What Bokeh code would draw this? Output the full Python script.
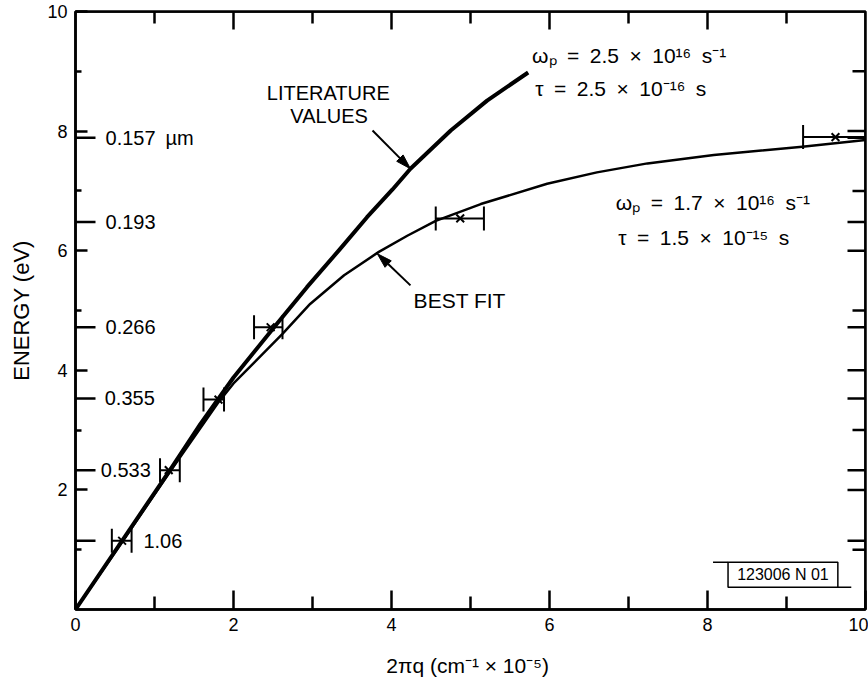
import math
from bokeh.plotting import figure
from bokeh.models import FixedTicker, Range1d, Span
from bokeh.core.properties import value
from bokeh.embed import file_html
from bokeh.resources import INLINE

FONT = "Liberation Sans"

# ---------------- data ----------------
x_ticks = [0, 2, 4, 6, 8, 10]
x_minor = [1, 3, 5, 7, 9]
y_ticks = [2, 4, 6, 8, 10]
y_minor = [1, 3, 5, 7, 9]

# literature-values curve
lit_x = [0.0, 0.6, 1.2, 1.58, 2.0, 2.55, 2.93, 3.35, 3.69, 4.01, 4.24, 4.75, 5.21, 5.73]
lit_y = [0.0, 1.17, 2.34, 3.10, 3.88, 4.78, 5.39, 6.03, 6.56, 7.02, 7.37, 8.01, 8.51, 8.98]

# best-fit curve
fit_x = [0.0, 0.6, 1.2, 1.8, 2.0, 2.62, 2.97, 3.40, 3.84, 4.20, 4.56, 5.13, 5.97,
         6.60, 7.24, 8.08, 9.20, 10.0]
fit_y = [0.0, 1.15, 2.31, 3.45, 3.78, 4.61, 5.11, 5.59, 5.98, 6.25, 6.50, 6.78, 7.12,
         7.31, 7.46, 7.60, 7.74, 7.85]

# measured points with horizontal error bars
pt_x = [0.59, 1.18, 1.81, 2.47, 4.87, 9.62]
pt_y = [1.15, 2.33, 3.51, 4.72, 6.54, 7.90]
pt_lo = [0.46, 1.07, 1.62, 2.26, 4.56, 9.21]
pt_hi = [0.71, 1.32, 1.88, 2.62, 5.17, 10.03]

# wavelength marks on the energy axis
wl_labels = ["0.157\u2002\u00b5m", "0.193", "0.266", "0.355", "0.533", "1.06"]
wl_energy = [7.89, 6.48, 4.72, 3.53, 2.33, 1.15]
wl_label_x = [0.38, 0.38, 0.38, 0.37, 0.32, 0.86]

# annotation arrows: (tail x, tail y, tip x, tip y)
arrows = [(3.76, 8.01, 4.24, 7.37),   # LITERATURE VALUES
          (4.24, 5.42, 3.82, 5.95)]   # BEST FIT

# ---------------- figure ----------------
W, H = 868, 681
ML, MR, MT, MB = 75, 3, 11, 72
px_per_x = (W - ML - MR) / 10.0
px_per_y = (H - MT - MB) / 10.0

p = figure(width=W, height=H, x_range=Range1d(0, 10), y_range=Range1d(0, 10),
           output_backend="svg", title=None,
           toolbar_location=None, min_border_left=ML, min_border_right=MR,
           min_border_top=MT, min_border_bottom=MB)
p.outline_line_color = "black"
p.outline_line_width = 2.5
p.xgrid.visible = False
p.ygrid.visible = False


def style_axis(ax, ticks, minor, major_in, minor_in):
    ax.ticker = FixedTicker(ticks=ticks, minor_ticks=minor)
    ax.major_tick_in = major_in
    ax.major_tick_out = 0
    ax.minor_tick_in = minor_in
    ax.minor_tick_out = 0
    ax.axis_line_width = 2.5
    ax.major_tick_line_width = 2.5
    ax.minor_tick_line_width = 2.5
    ax.axis_line_color = "black"
    ax.major_tick_line_color = "black"
    ax.minor_tick_line_color = "black"
    ax.major_label_text_font = FONT
    ax.major_label_text_color = "black"
    ax.major_label_text_font_size = "18px"
    ax.axis_label_text_font = FONT
    ax.axis_label_text_font_style = "normal"
    ax.axis_label_text_color = "black"


xb = p.xaxis[0]
style_axis(xb, x_ticks, x_minor, 19, 13)
xb.major_label_standoff = 8
xb.axis_label = "2\u03c0q  (cm\u207b\u00b9 \u00d7 10\u207b\u2075)"
xb.axis_label_text_font_size = "21px"
xb.axis_label_standoff = 20

yl = p.yaxis[0]
style_axis(yl, y_ticks, y_minor, 12, 6)
yl.major_label_standoff = 8
yl.axis_label = "ENERGY (eV)"
yl.axis_label_text_font_size = "22px"
yl.axis_label_standoff = 10

# top and right frame edges with inward ticks
p.add_layout(Span(location=10, dimension="width", line_color="black", line_width=2.5))
p.add_layout(Span(location=10, dimension="height", line_color="black", line_width=2.5))
top_major = [t for t in x_ticks if 0 < t < 10]
p.multi_line(xs=[[t, t] for t in top_major],
             ys=[[10, 10 - 18 / px_per_y] for _ in top_major],
             line_color="black", line_width=2.5)
p.multi_line(xs=[[t, t] for t in x_minor],
             ys=[[10, 10 - 12 / px_per_y] for _ in x_minor],
             line_color="black", line_width=2.5)
right_major = [t for t in y_ticks if 0 < t < 10]
p.multi_line(xs=[[10, 10 - 18 / px_per_x] for _ in right_major],
             ys=[[t, t] for t in right_major], line_color="black", line_width=2.5)
p.multi_line(xs=[[10, 10 - 13 / px_per_x] for _ in y_minor],
             ys=[[t, t] for t in y_minor], line_color="black", line_width=2.5)

# curves
p.line(lit_x, lit_y, line_color="black", line_width=4, line_join="round")
p.line(fit_x, fit_y, line_color="black", line_width=2.5, line_join="round")

# points and horizontal error bars (caps 24 px tall)
cap = 12 / px_per_y
p.segment(x0=pt_lo, x1=pt_hi, y0=pt_y, y1=pt_y, line_color="black", line_width=2)
p.segment(x0=pt_lo + pt_hi, x1=pt_lo + pt_hi,
          y0=[y - cap for y in pt_y] * 2, y1=[y + cap for y in pt_y] * 2,
          line_color="black", line_width=2)
p.scatter(x=pt_x, y=pt_y, marker="x", size=11, line_color="black", line_width=2)

# wavelength ticks (left: 20 px, right: 18 px)
n = len(wl_energy)
p.segment(x0=[0] * n, x1=[20 / px_per_x] * n, y0=wl_energy, y1=wl_energy,
          line_color="black", line_width=2.5)
p.segment(x0=[10 - 18 / px_per_x] * n, x1=[10] * n, y0=wl_energy, y1=wl_energy,
          line_color="black", line_width=2.5)
p.text(x=wl_label_x, y=wl_energy, text=wl_labels, text_font=value(FONT),
       text_font_size="20px", text_baseline="middle", text_align="left",
       text_color="black")

# text annotations
p.text(x=[3.20, 3.21], y=[8.64, 8.25], text=["LITERATURE", "VALUES"],
       text_font=value(FONT), text_font_size="20px", text_baseline="middle",
       text_align="center", text_color="black")
p.text(x=[4.28], y=[5.17], text=["BEST FIT"], text_font=value(FONT),
       text_font_size="21px", text_baseline="middle", text_align="left",
       text_color="black")

# arrows: shaft + narrow filled head (head 15 px long, 9 px wide)
HEAD_L, HEAD_W = 15.0, 9.0
for (x0, y0, x1, y1) in arrows:
    dxp = (x1 - x0) * px_per_x
    dyp = (y1 - y0) * px_per_y
    d = math.hypot(dxp, dyp)
    ux, uy = dxp / d, dyp / d
    bx, by = x1 - HEAD_L * ux / px_per_x, y1 - HEAD_L * uy / px_per_y
    nx, ny = -uy, ux
    p.line([x0, bx], [y0, by], line_color="black", line_width=2)
    p.patch([x1, bx + HEAD_W / 2 * nx / px_per_x, bx - HEAD_W / 2 * nx / px_per_x],
            [y1, by + HEAD_W / 2 * ny / px_per_y, by - HEAD_W / 2 * ny / px_per_y],
            fill_color="black", line_color="black", line_width=1)

sp = "\u2002"
param_text = [f"\u03c9\u209a{sp}={sp}2.5{sp}\u00d7{sp}10\u00b9\u2076{sp}s\u207b\u00b9",
              f"\u03c4{sp}={sp}2.5{sp}\u00d7{sp}10\u207b\u00b9\u2076{sp}s",
              f"\u03c9\u209a{sp}={sp}1.7{sp}\u00d7{sp}10\u00b9\u2076{sp}s\u207b\u00b9",
              f"\u03c4{sp}={sp}1.5{sp}\u00d7{sp}10\u207b\u00b9\u2075{sp}s"]
p.text(x=[5.78, 5.82, 6.84, 6.87], y=[9.26, 8.71, 6.81, 6.22], text=param_text,
       text_font=value(FONT), text_font_size="21px", text_baseline="middle",
       text_align="left", text_color="black")

# drawing number box
p.quad(left=[8.26], right=[9.65], bottom=[0.37], top=[0.79], fill_color=None,
       line_color="black", line_width=1.5)
p.segment(x0=[8.07, 9.65], x1=[8.26, 9.82], y0=[0.79, 0.37], y1=[0.79, 0.37],
          line_color="black", line_width=1.5)
p.text(x=[8.955], y=[0.58], text=["123006 N 01"], text_font=value(FONT),
       text_font_size="16px", text_baseline="middle", text_align="center",
       text_color="black")

open("out.html", "w").write(file_html(p, INLINE))
